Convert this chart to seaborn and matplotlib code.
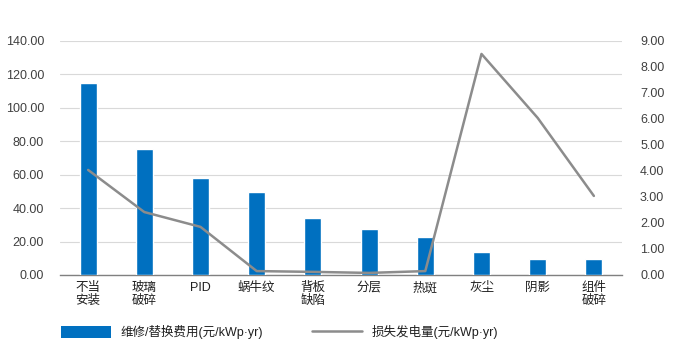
import matplotlib
matplotlib.use("Agg")
import matplotlib.pyplot as plt
import seaborn as sns
import pandas as pd
from matplotlib.patches import Patch
from matplotlib.lines import Line2D

categories = ["不当\n安装", "玻璃\n破碎", "PID", "蜗牛纹", "背板\n缺陷", "分层", "热斑", "灰尘", "阴影", "组件\n破碎"]
cost = [115.0, 75.4, 58.0, 49.7, 34.0, 27.5, 22.7, 13.8, 9.6, 9.6]
loss = [4.04, 2.42, 1.85, 0.15, 0.12, 0.08, 0.15, 8.5, 6.04, 3.04]
left_ticks = [0, 20, 40, 60, 80, 100, 120, 140]
right_ticks = [0, 1, 2, 3, 4, 5, 6, 7, 8, 9]
bar_label = "维修/替换费用(元/kWp·yr)"
line_label = "损失发电量(元/kWp·yr)"

sns.set_theme(style="white")
plt.rcParams['font.family'] = ['Liberation Sans', 'Noto Sans CJK SC', 'DejaVu Sans']

df = pd.DataFrame({"cat": categories, "cost": cost, "loss": loss})

fig = plt.figure(figsize=(6.85, 3.44), dpi=100)
ax = fig.add_axes([0.0876, 0.2006, 0.8204, 0.6804])
sns.barplot(data=df, x="cat", y="cost", color="#0070C0", saturation=1, width=0.3, ax=ax, zorder=3)
ax.set_ylim(0, 140)
ax.set_yticks(left_ticks)
ax.set_yticklabels([f"{v:.2f}" for v in left_ticks])
ax.set_xlim(-0.5, len(categories) - 0.5)
ax.grid(axis="y", color="#D9D9D9", linewidth=0.8, zorder=0)
ax.set_axisbelow(True)
for s in ["left", "right", "top"]:
    ax.spines[s].set_visible(False)
ax.spines["bottom"].set_color("#808080")
ax.spines["bottom"].set_linewidth(1.0)
ax.set_xlabel("")
ax.set_ylabel("")
ax.tick_params(axis="y", length=0, pad=11.5, labelsize=9, labelcolor="#404040")
ax.tick_params(axis="x", length=0, pad=5, labelsize=9, labelcolor="#202020")
for t in ax.get_xticklabels():
    t.set_linespacing(1.15)

ax2 = ax.twinx()
sns.lineplot(x=list(range(len(categories))), y=loss, color="#8C8C8C", linewidth=1.8, ax=ax2)
ax2.set_ylim(0, 9)
ax2.set_yticks(right_ticks)
ax2.set_yticklabels([f"{v:.2f}" for v in right_ticks])
ax2.set_ylabel("")
for s in ["left", "right", "top", "bottom"]:
    ax2.spines[s].set_visible(False)
ax2.tick_params(axis="y", length=0, pad=13, labelsize=9, labelcolor="#404040")

handles = [Patch(facecolor="#0070C0", edgecolor="none", label=bar_label),
           Line2D([0], [0], color="#8C8C8C", linewidth=1.8, label=line_label)]
fig.legend(handles=handles, loc="lower left", bbox_to_anchor=(0.072, -0.018), ncol=2,
           frameon=False, fontsize=9, handlelength=4.0, handleheight=1.1,
           columnspacing=3.9, handletextpad=0.8, labelcolor="#202020")

fig.savefig("out.png", dpi=100)
